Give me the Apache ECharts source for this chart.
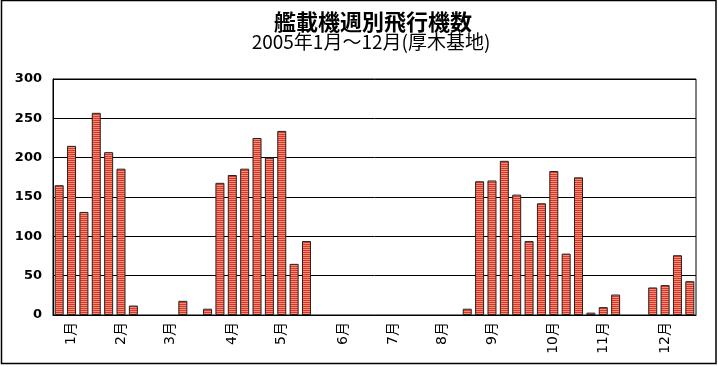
<!DOCTYPE html>
<html>
<head>
<meta charset="utf-8">
<script src="https://cdn.jsdelivr.net/npm/echarts@6/dist/echarts.min.js"></script>
<style>
html,body{margin:0;padding:0;background:#fff;}
#c{width:718px;height:367px;}
</style>
</head>
<body>
<div id="c"></div>
<script>
const titleText = '艦載機週別飛行機数';
const subTitleText = '2005年1月～12月(厚木基地)';

// 52 weekly categories; month labels at the week where each month begins
const weekLabels = [
  '', '1月', '', '', '', '2月', '', '', '', '3月', '', '', '', '',
  '4月', '', '', '', '5月', '', '', '', '', '6月', '', '', '', '7月',
  '', '', '', '8月', '', '', '', '9月', '', '', '', '', '10月', '', '',
  '', '11月', '', '', '', '', '12月', '', ''
];

// weekly counts ('-' = no flights, no bar drawn)
const flights = [
  165, 215, 131, 257, 207, 186, 12, '-', '-', '-', 18, '-', 8, 168,
  178, 186, 225, 200, 234, 65, 94, '-', '-', '-', '-', '-', '-', '-',
  '-', '-', '-', '-', '-', 8, 170, 171, 196, 153, 94, 142, 183, 78, 175,
  3, 10, 26, '-', '-', 35, 38, 76, 43
];

const yTicks = [0, 50, 100, 150, 200, 250, 300];

// striped fill like the reference
const pat = document.createElement('canvas');
pat.width = 4; pat.height = 2;
const pctx = pat.getContext('2d');
pctx.fillStyle = '#df3520'; pctx.fillRect(0, 0, 4, 1);
pctx.fillStyle = '#f5907e'; pctx.fillRect(0, 1, 4, 1);

const chart = echarts.init(document.getElementById('c'), null, {renderer: 'canvas'});
chart.setOption({
  animation: false,
  backgroundColor: '#fff',
  graphic: [
    {type: 'rect', shape: {x: 1.5, y: 0.5, width: 714.5, height: 363}, style: {fill: 'none', stroke: '#000', lineWidth: 1.5}, silent: true},
    {type: 'text', x: 373, y: 11, style: {text: titleText, fill: '#000', font: 'bold 22px "Noto Sans CJK JP"', textAlign: 'center', textVerticalAlign: 'top'}},
    {type: 'text', x: 371, y: 32, style: {text: subTitleText, fill: '#000', font: '19px "Noto Sans CJK JP"', textAlign: 'center', textVerticalAlign: 'top'}}
  ],
  grid: {left: 53, right: 22, top: 79, bottom: 52, show: true, borderColor: '#000', borderWidth: 1, containLabel: false},
  xAxis: {
    type: 'category',
    data: weekLabels,
    axisLine: {lineStyle: {color: '#000', width: 1}},
    axisTick: {show: false},
    axisLabel: {interval: 0, rotate: 90, margin: 7, color: '#000', fontSize: 14, fontFamily: '"DejaVu Sans", "Noto Sans CJK JP"'}
  },
  yAxis: {
    type: 'value',
    min: yTicks[0], max: yTicks[yTicks.length - 1], interval: 50,
    axisLine: {show: true, lineStyle: {color: '#000', width: 1}},
    axisTick: {show: false},
    splitLine: {lineStyle: {color: '#000', width: 1}},
    axisLabel: {margin: 11, color: '#000', fontSize: 13, fontWeight: 'bold', fontFamily: '"DejaVu Sans"'}
  },
  series: [{
    type: 'bar',
    data: flights,
    barWidth: 9,
    itemStyle: {color: {image: pat, repeat: 'repeat'}, borderColor: '#222', borderWidth: 1}
  }]
});
</script>
</body>
</html>
